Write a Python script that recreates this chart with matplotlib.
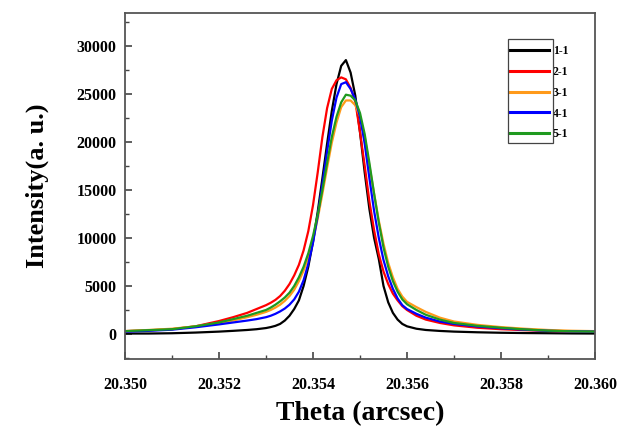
import matplotlib
matplotlib.use("Agg")
import matplotlib.pyplot as plt
from matplotlib.patches import Rectangle
from matplotlib.ticker import MultipleLocator, FormatStrFormatter

theta = [20.3500, 20.3505, 20.3510, 20.3515, 20.3520, 20.3523, 20.3526, 20.3528,
         20.3530, 20.3531, 20.3532, 20.3533, 20.3534, 20.3535, 20.3536, 20.3537,
         20.3538, 20.3539, 20.3540, 20.3541, 20.3542, 20.3543, 20.3544, 20.3545,
         20.3546, 20.3547, 20.3548, 20.3549, 20.3550, 20.3551, 20.3552, 20.3553,
         20.3554, 20.3555, 20.3556, 20.3557, 20.3558, 20.3559, 20.3560, 20.3562,
         20.3564, 20.3567, 20.3570, 20.3575, 20.3580, 20.3585, 20.3590, 20.3595,
         20.3600]

s1_1 = [50, 50, 80, 150, 250, 330, 420, 500,
        620, 720, 850, 1050, 1400, 1900, 2600, 3500,
        5000, 7000, 9600, 12700, 16200, 19800, 23200, 26000,
        27900, 28500, 27200, 24800, 21000, 16800, 13000, 10000,
        7800, 5000, 3300, 2200, 1500, 1050, 800, 550,
        420, 320, 250, 180, 130, 100, 80, 60,
        50]
s2_1 = [300, 380, 500, 800, 1350, 1750, 2200, 2600,
        3000, 3250, 3550, 3950, 4500, 5200, 6100, 7200,
        8700, 10700, 13400, 16800, 20500, 23500, 25500, 26400,
        26700, 26500, 25600, 24200, 21000, 17500, 13800, 10800,
        8300, 6500, 5200, 4200, 3500, 2900, 2500, 1900,
        1500, 1150, 900, 650, 500, 400, 320, 280,
        250]
s3_1 = [300, 420, 550, 800, 1150, 1400, 1750, 2000,
        2300, 2500, 2750, 3050, 3450, 3950, 4600, 5500,
        6600, 8000, 9800, 12000, 14600, 17300, 19900, 22000,
        23600, 24300, 24300, 23800, 22600, 20500, 17500, 14600,
        11800, 9400, 7400, 5900, 4700, 3900, 3350, 2800,
        2300, 1700, 1300, 950, 720, 550, 420, 340,
        300]
s4_1 = [250, 330, 450, 700, 1000, 1200, 1400, 1550,
        1750, 1900, 2100, 2350, 2650, 3050, 3600, 4400,
        5600, 7300, 9500, 12300, 15600, 19000, 22200, 24600,
        26000, 26200, 25500, 24400, 22600, 19800, 16200, 12800,
        10000, 7700, 6000, 4700, 3700, 3000, 2600, 2100,
        1700, 1300, 1050, 780, 600, 450, 330, 280,
        250]
s5_1 = [300, 400, 500, 800, 1200, 1550, 1900, 2200,
        2500, 2750, 3050, 3400, 3800, 4300, 5000, 5900,
        7000, 8400, 10200, 12400, 15000, 17800, 20500, 22600,
        24100, 24900, 24800, 24300, 23000, 20800, 17800, 14600,
        11600, 9000, 7000, 5500, 4400, 3600, 3100, 2500,
        2000, 1500, 1150, 850, 650, 480, 350, 280,
        250]

labels = ["1-1", "2-1", "3-1", "4-1", "5-1"]
series = [s1_1, s2_1, s3_1, s4_1, s5_1]
colors = ["#000000", "#ff0000", "#ff9a1a", "#0000ff", "#1f9a1f"]

fig = plt.figure(figsize=(6.32, 4.32), dpi=100)
W, H = 632, 432
ax = fig.add_axes([125 / W, 1 - 359 / H, 470 / W, 346 / H])

for ys, c, lab in zip(series, colors, labels):
    ax.plot(theta, ys, color=c, lw=1.6, label=lab)

ax.set_xlim(20.350, 20.360)
ax.set_ylim(-2600, 33400)
ax.xaxis.set_major_locator(MultipleLocator(0.002))
ax.xaxis.set_minor_locator(MultipleLocator(0.001))
ax.xaxis.set_major_formatter(FormatStrFormatter("%.3f"))
ax.yaxis.set_major_locator(MultipleLocator(5000))
ax.yaxis.set_minor_locator(MultipleLocator(2500))
ax.tick_params(which="both", direction="in", top=False, right=False, color="#444444")
ax.tick_params(which="major", length=5, width=1.2)
ax.tick_params(which="minor", length=3, width=1.0)

for lbl in ax.get_xticklabels() + ax.get_yticklabels():
    lbl.set_fontfamily("Liberation Serif")
    lbl.set_fontweight("bold")
    lbl.set_fontsize(11.5)
ax.tick_params(axis="x", pad=13)
ax.tick_params(axis="y", pad=6)

for sp in ax.spines.values():
    sp.set_color("#555555")
    sp.set_linewidth(1.3)

ax.set_xlabel("Theta (arcsec)", fontfamily="Liberation Serif", fontweight="bold",
              fontsize=20, labelpad=6)
ax.set_ylabel("Intensity(a. u.)", fontfamily="Liberation Serif", fontweight="bold",
              fontsize=19, labelpad=20)

leg = ax.legend(loc="upper left", bbox_to_anchor=(509 / W, 1 - 45 / H),
                bbox_transform=fig.transFigure, frameon=False, borderpad=0,
                borderaxespad=0, handlelength=3.4, handletextpad=0.3,
                labelspacing=0.75, prop=dict(family="Liberation Serif",
                                             weight="bold", size=8.5))
for line in leg.get_lines():
    line.set_linewidth(2.2)

rect = Rectangle((508 / W, 1 - 143 / H), 45 / W, 104 / H, transform=fig.transFigure,
                 fill=False, edgecolor="#444444", lw=0.9)
fig.patches.append(rect)

fig.savefig("out.png", dpi=100)
